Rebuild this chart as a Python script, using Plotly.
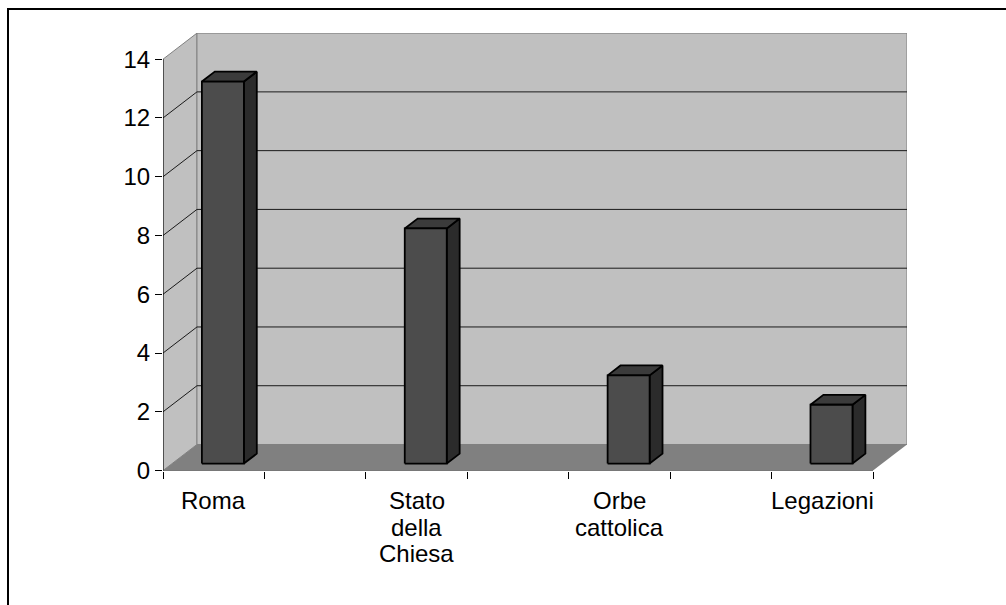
import plotly.graph_objects as go

# Category slots (blank slots keep the gaps between the labelled columns)
categories = ["Roma", "", "Stato della Chiesa", "", "Orbe cattolica", "", "Legazioni"]
values = [13, None, 8, None, 3, None, 2]
y_ticks = [0, 2, 4, 6, 8, 10, 12, 14]

# Oblique "3-D" projection, expressed in axis units
DX, DY = 0.335, 0.888     # depth offset of the back wall
BAR_W = 0.414             # column width (category units)
BAR_Z0 = 0.27             # depth of a column's front face (fraction of DX/DY)
BAR_D = 0.38              # column depth (fraction of DX/DY)
Y_MAX = y_ticks[-1]

FONT = "Liberation Sans, Arial, sans-serif"
WALL = "#C0C0C0"
FLOOR = "#808080"
EDGE = "#808080"

W, H = 1006, 605
H_DRAWN = 590             # height the page actually gives the plot
n = len(categories)
fig = go.Figure()


def poly(xs, ys, fill, line_color="black", lw=0.0):
    fig.add_trace(go.Scatter(
        x=list(xs) + [xs[0]], y=list(ys) + [ys[0]],
        mode="lines", fill="toself", fillcolor=fill,
        line=dict(color=line_color, width=lw),
        hoverinfo="skip", showlegend=False))


def lines(xs, ys, color, lw):
    fig.add_trace(go.Scatter(
        x=xs, y=ys, mode="lines", line=dict(color=color, width=lw),
        hoverinfo="skip", showlegend=False))


# side wall and back wall
poly([0, 0, DX, DX], [0, Y_MAX, Y_MAX + DY, DY], WALL, EDGE, 1)
poly([DX, n + DX, n + DX, DX], [DY, DY, Y_MAX + DY, Y_MAX + DY], WALL, EDGE, 1)

# gridlines: horizontal on the back wall, slanted on the side wall
gx, gy = [], []
for v in y_ticks[1:-1]:
    gx += [0, DX, n + DX, None]
    gy += [v, v + DY, v + DY, None]
lines(gx, gy, "#1a1a1a", 1)

# floor
poly([0, n, n + DX, DX], [0, 0, DY, DY], FLOOR, FLOOR, 0)

# columns
for i, v in enumerate(values):
    if v is None:
        continue
    c = i + 0.5
    xl = c - BAR_W / 2 + BAR_Z0 * DX
    xr = c + BAR_W / 2 + BAR_Z0 * DX
    yb = BAR_Z0 * DY
    yt = v + BAR_Z0 * DY
    ox, oy = BAR_D * DX, BAR_D * DY
    poly([xr, xr + ox, xr + ox, xr], [yb, yb + oy, yt + oy, yt], "#2b2b2b", "black", 1.8)
    poly([xl, xl + ox, xr + ox, xr], [yt, yt + oy, yt + oy, yt], "#3b3b3b", "black", 1.8)
    poly([xl, xr, xr, xl], [yb, yb, yt, yt], "#4c4c4c", "black", 1.8)

# front axis lines
lines([0, 0, None, 0, n], [0, Y_MAX, None, 0, 0], "black", 1)

# category labels, one word per line
annotations = []
for i, cat in enumerate(categories):
    if not cat:
        continue
    for k, word in enumerate(cat.split(" ")):
        annotations.append(dict(
            x=i + 0.5, y=0, xref="x", yref="y", text=word, showarrow=False,
            xanchor="center", yanchor="middle", yshift=-30 - 26.7 * k,
            font=dict(family=FONT, size=24, color="black")))

# chart-area frame: only its left and top sides fall inside the page
bx, by = 8 / W, 1 - 9 / H_DRAWN
frame = dict(type="path", xref="paper", yref="paper",
             path=f"M {bx},{-20 / H_DRAWN} L {bx},{by} L 1.02,{by}",
             line=dict(color="black", width=2), layer="above")

fig.update_layout(
    width=W, height=H, autosize=False,
    margin=dict(l=0, r=0, t=0, b=0, pad=0),
    paper_bgcolor="white", plot_bgcolor="white",
    showlegend=False,
    annotations=annotations,
    shapes=[frame],
    xaxis=dict(range=[0, n + DX], domain=[163 / W, 907 / W],
               tickvals=list(range(n + 1)), ticktext=[""] * (n + 1),
               ticks="outside", ticklen=7, tickcolor="black", tickwidth=1,
               showgrid=False, zeroline=False, showline=False, fixedrange=True),
    yaxis=dict(range=[0, Y_MAX + DY],
               domain=[1 - 469 / H_DRAWN, 1 - 33 / H_DRAWN],
               tickvals=y_ticks, ticks="outside", ticklen=7, tickcolor="black",
               tickwidth=1, tickfont=dict(family=FONT, size=24, color="black"),
               showgrid=False, zeroline=False, showline=False, fixedrange=True),
)

fig.write_html("out.html")
